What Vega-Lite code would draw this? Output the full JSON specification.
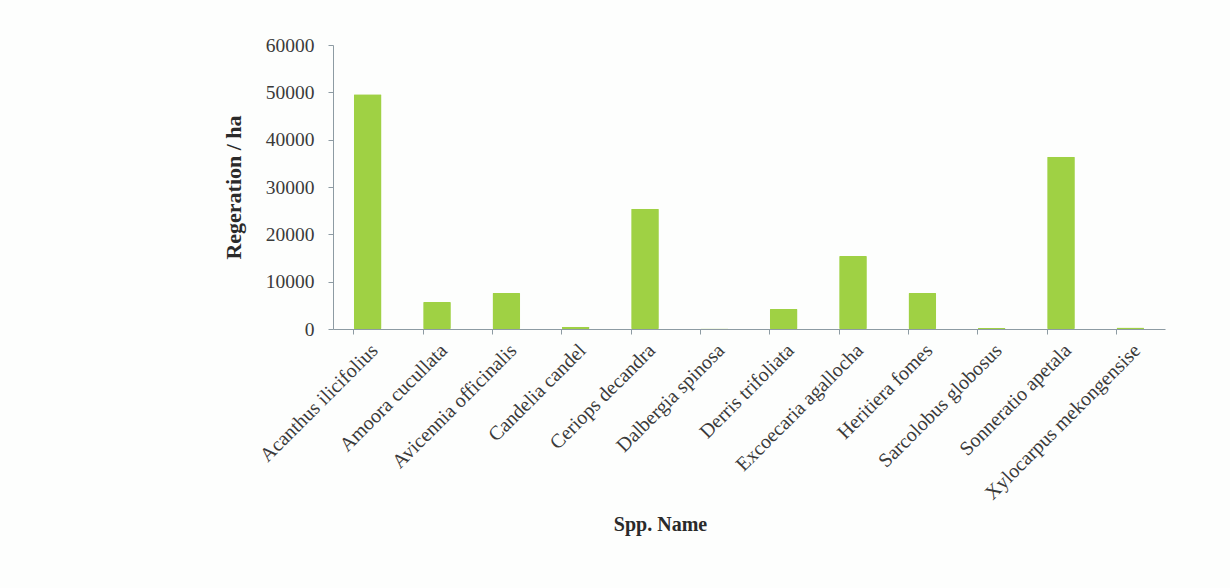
{
  "$schema": "https://vega.github.io/schema/vega-lite/v6.json",
  "autosize": "none",
  "padding": {"left": 333, "top": 45, "right": 65, "bottom": 259},
  "width": 832,
  "height": 284,
  "background": "#fdfefd",
  "config": {
    "font": "Liberation Serif",
    "view": {"stroke": null},
    "axis": {
      "domainColor": "#8d9ba3",
      "tickColor": "#8d9ba3",
      "labelColor": "#3a3a3a",
      "titleColor": "#2a2a2a",
      "labelFont": "Liberation Serif",
      "titleFont": "Liberation Serif",
      "grid": false
    }
  },
  "data": {
    "values": [
      {"species": "Acanthus ilicifolius", "regeneration": 49600},
      {"species": "Amoora cucullata", "regeneration": 5700},
      {"species": "Avicennia officinalis", "regeneration": 7600},
      {"species": "Candelia candel", "regeneration": 500},
      {"species": "Ceriops decandra", "regeneration": 25400},
      {"species": "Dalbergia spinosa", "regeneration": 100},
      {"species": "Derris trifoliata", "regeneration": 4200},
      {"species": "Excoecaria agallocha", "regeneration": 15400},
      {"species": "Heritiera fomes", "regeneration": 7600},
      {"species": "Sarcolobus globosus", "regeneration": 200},
      {"species": "Sonneratio apetala", "regeneration": 36400},
      {"species": "Xylocarpus mekongensise", "regeneration": 300}
    ]
  },
  "mark": {"type": "bar", "color": "#9fd144", "cornerRadius": 1},
  "encoding": {
    "x": {
      "field": "species",
      "type": "nominal",
      "sort": null,
      "scale": {"paddingInner": 0.6, "paddingOuter": 0.3},
      "axis": {
        "title": "Spp. Name",
        "titleFontSize": 20,
        "titleFontWeight": "bold",
        "titleX": 327,
        "titleY": 185,
        "labelAngle": -45,
        "labelFontSize": 20,
        "labelPadding": 6,
        "tickSize": 5,
        "bandPosition": 0,
        "labelAlign": "right",
        "labelBaseline": "top",
        "labelLimit": 300
      }
    },
    "y": {
      "field": "regeneration",
      "type": "quantitative",
      "scale": {"domain": [0, 60000]},
      "axis": {
        "title": "Regeration / ha",
        "titleFontSize": 22,
        "titleFontWeight": "bold",
        "titlePadding": 20,
        "labelFontSize": 19.5,
        "labelPadding": 14,
        "tickSize": 5,
        "values": [0, 10000, 20000, 30000, 40000, 50000, 60000],
        "format": "d"
      }
    }
  }
}
